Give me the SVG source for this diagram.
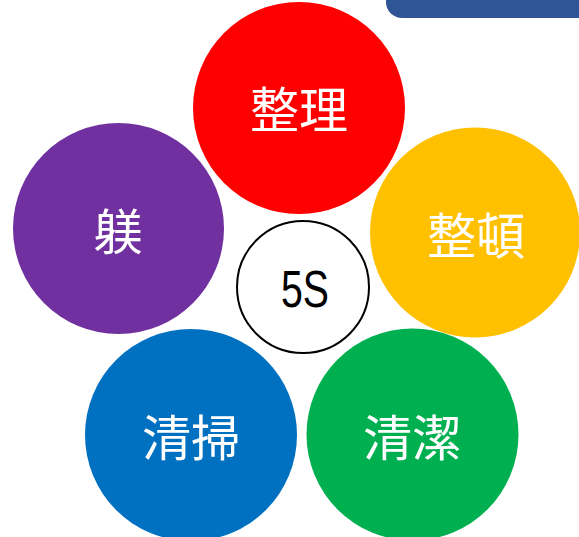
<svg xmlns="http://www.w3.org/2000/svg" width="579" height="537" viewBox="0 0 579 537">
<style>
.lbl{font-family:"Noto Sans CJK JP","Noto Sans CJK SC",sans-serif;font-size:49px;fill:#fff;text-anchor:middle;dominant-baseline:central}
</style>
<rect width="579" height="537" fill="#fff"/>
<rect x="386" y="-30" width="230" height="48" rx="16" fill="#2F5597"/>
<g id="seiri"><circle cx="299" cy="108" r="106" fill="#FF0000"/><text class="lbl" x="299" y="106">整理</text></g>
<g id="shitsuke"><circle cx="118.5" cy="228.5" r="105.5" fill="#7030A0"/><text class="lbl" x="118" y="228">躾</text></g>
<g id="seiton"><circle cx="475" cy="232.5" r="105" fill="#FFC000"/><text class="lbl" x="476" y="232">整頓</text></g>
<g id="seisou"><circle cx="191" cy="435" r="106" fill="#0070C0"/><text class="lbl" x="191" y="434">清掃</text></g>
<g id="seiketsu"><circle cx="412.5" cy="434.5" r="106" fill="#00B050"/><text class="lbl" x="412" y="434">清潔</text></g>
<g id="center"><circle cx="303" cy="287" r="66" fill="#fff" stroke="#000" stroke-width="2"/><text x="281" y="307" font-family="Liberation Sans, Arial, sans-serif" font-size="51" textLength="48" lengthAdjust="spacingAndGlyphs" fill="#000">5S</text></g>
<g id="connectors"/>
</svg>
